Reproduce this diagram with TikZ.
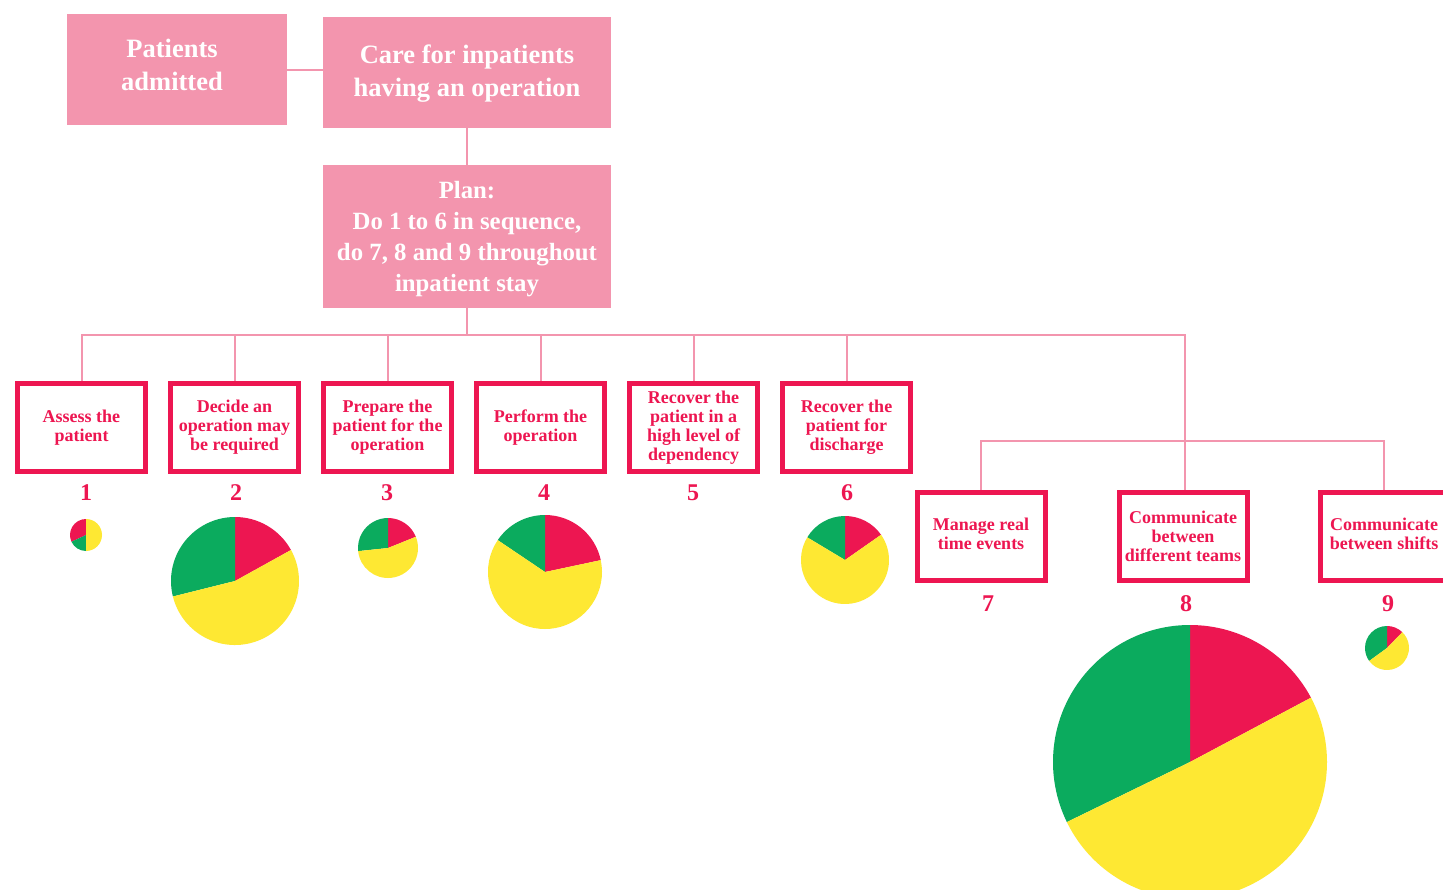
\documentclass[tikz,border=0pt]{standalone}
\usepackage{fontspec}
\setmainfont{Liberation Serif}
\definecolor{pinkbox}{HTML}{F395AE}
\definecolor{redb}{HTML}{ED1651}
\definecolor{pgreen}{HTML}{0BAB5E}
\definecolor{pyellow}{HTML}{FEE833}
\tikzset{
 topbox/.style={fill=pinkbox, text=white, font=\bfseries\fontsize{26.5}{33}\selectfont, align=center, inner sep=0pt},
 toptext/.style={text=white, font=\bfseries\fontsize{26.5}{33}\selectfont, align=center, inner sep=0pt},
 redbox/.style={draw=redb, line width=5pt, fill=white, text=redb, font=\bfseries\fontsize{18}{19}\selectfont, align=center, minimum width=128pt, minimum height=88pt, inner sep=0pt},
 num/.style={text=redb, font=\bfseries\fontsize{24}{24}\selectfont, inner sep=0pt},
 conn/.style={draw=pinkbox, line width=2pt},
}
\newcommand\mypie[5]{%
 \fill[redb] (#1,#2) -- ++(#4:#3) arc[start angle=#4, end angle=90, radius=#3] -- cycle;
 \fill[pgreen] (#1,#2) -- ++(90:#3) arc[start angle=90, end angle=#5, radius=#3] -- cycle;
 \fill[pyellow] (#1,#2) -- ++(#5:#3) arc[start angle=#5, end angle=#4+360, radius=#3] -- cycle;
}
\begin{document}
\begin{tikzpicture}[x=1pt,y=1pt]
\useasboundingbox (0,0) rectangle (1443,-890);
\clip (0,0) rectangle (1443,-890);
\fill[white] (0,0) rectangle (1443,-890);
% top boxes
\node[topbox, minimum width=220pt, minimum height=111pt] (adm) at (177,-69.5) {};
\node[toptext] (admt) at ([xshift=-5pt,yshift=5pt]adm.center) {Patients\\admitted};
\node[topbox, minimum width=288pt, minimum height=111pt] (care) at (467,-72.5) {};
\node[toptext] (caret) at ([yshift=-1.5pt]care.center) {Care for inpatients\\having an operation};
\node[topbox, minimum width=288pt, minimum height=143pt] (plan) at (467,-236.5) {};
\node[toptext, font=\bfseries\fontsize{24.8}{31}\selectfont] (plant) at ([yshift=-3pt]plan.center) {Plan:\\Do 1 to 6 in sequence,\\do 7, 8 and 9 throughout\\inpatient stay};
% task boxes
\node[redbox] (b1) at (81.5,-427.5) {Assess the\\patient};
\node[redbox] (b2) at (234.5,-427.5) {Decide an\\operation may\\be required};
\node[redbox] (b3) at (387.5,-427.5) {Prepare the\\patient for the\\operation};
\node[redbox] (b4) at (540.5,-427.5) {Perform the\\operation};
\node[redbox] (b5) at (693.5,-427.5) {Recover the\\patient in a\\high level of\\dependency};
\node[redbox] (b6) at (846.5,-427.5) {Recover the\\patient for\\discharge};
\node[redbox, text depth=6pt] (b7) at (981,-536.5) {Manage real\\time events};
\node[redbox] (b8) at (1183,-536.5) {Communicate\\between\\different teams};
\node[redbox, text depth=6pt] (b9) at (1384,-536.5) {Communicate\\between shifts};
% numbers
\node[num] (n1) at (86,-493) {1};
\node[num] (n2) at (236,-493) {2};
\node[num] (n3) at (387,-493) {3};
\node[num] (n4) at (544,-493) {4};
\node[num] (n5) at (693,-493) {5};
\node[num] (n6) at (847,-493) {6};
\node[num] (n7) at (988,-604) {7};
\node[num] (n8) at (1186,-604) {8};
\node[num] (n9) at (1388,-604) {9};
% connectors
\coordinate (busL) at (81,-335);
\coordinate (busR) at (1185,-335);
\coordinate (bus2) at (1185,-441);
\draw[conn] (adm.east |- 0,-70) -- (care.west |- 0,-70);
\draw[conn] (care.south) -- (plan.north);
\draw[conn] (plan.south) -- (plan.south |- busL);
\draw[conn] (b1.north) |- (busR) -- (busR |- b8.north);
\foreach \b in {b2,b3,b4,b5,b6} {\draw[conn] (\b.north) -- (\b.north |- busL);}
\draw[conn] (b7.north) |- (b9.north |- bus2) -- (b9.north);
% pies
\fill[redb] (86,-535) -- ++(90:16) arc[start angle=90, end angle=205, radius=16] -- cycle;
\fill[pgreen] (86,-535) -- ++(205:16) arc[start angle=205, end angle=270, radius=16] -- cycle;
\fill[pyellow] (86,-535) -- ++(270:16) arc[start angle=270, end angle=450, radius=16] -- cycle;
\mypie{235}{-581}{64}{29}{194}
\mypie{388}{-548}{30}{22}{186}
\mypie{545}{-572}{57}{12}{146}
\mypie{845}{-560}{44}{35}{149}
\mypie{1190}{-762}{137}{28}{206}
\mypie{1387}{-648}{22}{46}{216}
\end{tikzpicture}
\end{document}
